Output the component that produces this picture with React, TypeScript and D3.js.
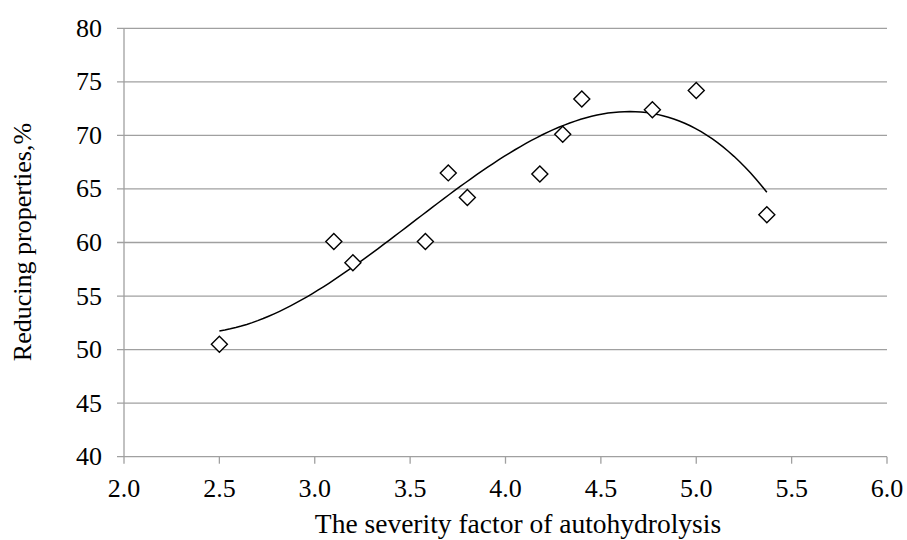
import React from 'react';
import * as d3 from 'd3';

// severity factor vs reducing properties
const severity = [2.5, 3.1, 3.2, 3.58, 3.7, 3.8, 4.18, 4.3, 4.4, 4.77, 5.0, 5.37];
const reducing = [50.5, 60.1, 58.1, 60.1, 66.5, 64.2, 66.4, 70.1, 73.4, 72.4, 74.2, 62.6];
const xTicks = [2.0, 2.5, 3.0, 3.5, 4.0, 4.5, 5.0, 5.5, 6.0];
const yTicks = [40, 45, 50, 55, 60, 65, 70, 75, 80];

// least squares polynomial fit (trendline)
function polyfit(xs: number[], ys: number[], order: number): number[] {
  const n = order + 1;
  const A: number[][] = [];
  for (let i = 0; i < n; i++) {
    A.push([]);
    for (let j = 0; j <= n; j++) A[i].push(0);
  }
  xs.forEach((x, k) => {
    for (let i = 0; i < n; i++) {
      for (let j = 0; j < n; j++) A[i][j] += Math.pow(x, i + j);
      A[i][n] += ys[k] * Math.pow(x, i);
    }
  });
  for (let c = 0; c < n; c++) {
    let p = c;
    for (let r = c + 1; r < n; r++) if (Math.abs(A[r][c]) > Math.abs(A[p][c])) p = r;
    [A[c], A[p]] = [A[p], A[c]];
    for (let r = 0; r < n; r++) {
      if (r === c) continue;
      const f = A[r][c] / A[c][c];
      for (let j = c; j <= n; j++) A[r][j] -= f * A[c][j];
    }
  }
  return A.map((row, i) => row[n] / row[i]);
}

export default function App() {
  const width = 907, height = 540;
  const x = d3.scaleLinear().domain([2, 6]).range([124, 887]);
  const y = d3.scaleLinear().domain([40, 80]).range([456.7, 28.3]);

  const coef = polyfit(severity, reducing, 3);
  const fit = (v: number) => coef.reduce((s, c, i) => s + c * Math.pow(v, i), 0);
  const x0 = d3.min(severity) as number, x1 = d3.max(severity) as number;
  const curvePts = d3.range(0, 101).map(i => {
    const v = x0 + (x1 - x0) * i / 100;
    return [x(v), y(fit(v))] as [number, number];
  });
  const line = d3.line().curve(d3.curveLinear);

  const grid = "#a0a0a0";
  const font = { fontFamily: '"Liberation Serif", "Times New Roman", Tinos, "DejaVu Serif", serif' };

  return (
    <svg width={width} height={height} style={{ position: 'absolute', left: 0, top: 0, background: '#fff' }}>
      <g>
        {yTicks.map((t, i) => (
          <line key={'g' + i} x1={x(2) - 7} x2={x(6)} y1={y(t)} y2={y(t)} stroke={grid} strokeWidth={1.3} />
        ))}
        <line x1={x(2)} x2={x(2)} y1={y(40)} y2={y(80)} stroke={grid} strokeWidth={1.3} />
        {xTicks.map((t, i) => (
          <line key={'xt' + i} x1={x(t)} x2={x(t)} y1={y(40)} y2={y(40) + 7} stroke={grid} strokeWidth={1.3} />
        ))}
      </g>
      <g style={font} fontSize={26} fill="#000">
        {yTicks.map((t, i) => (
          <text key={'yl' + i} x={102} y={y(t) + 8.5} textAnchor="end">{t}</text>
        ))}
        {xTicks.map((t, i) => (
          <text key={'xl' + i} x={x(t)} y={496.5} textAnchor="middle">{t.toFixed(1)}</text>
        ))}
      </g>
      <text x={518} y={533} textAnchor="middle" style={font} fontSize={27.5}>The severity factor of autohydrolysis</text>
      <text transform={`translate(31,242) rotate(-90)`} textAnchor="middle" style={font} fontSize={26}>Reducing properties,%</text>
      <path d={line(curvePts) as string} fill="none" stroke="#000" strokeWidth={1.5} />
      {severity.map((s, i) => {
        const cx = x(s), cy = y(reducing[i]), r = 8;
        return (
          <path key={'p' + i} d={`M${cx},${cy - r}L${cx + r},${cy}L${cx},${cy + r}L${cx - r},${cy}Z`}
            fill="#fff" stroke="#000" strokeWidth={1.4} />
        );
      })}
    </svg>
  );
}
